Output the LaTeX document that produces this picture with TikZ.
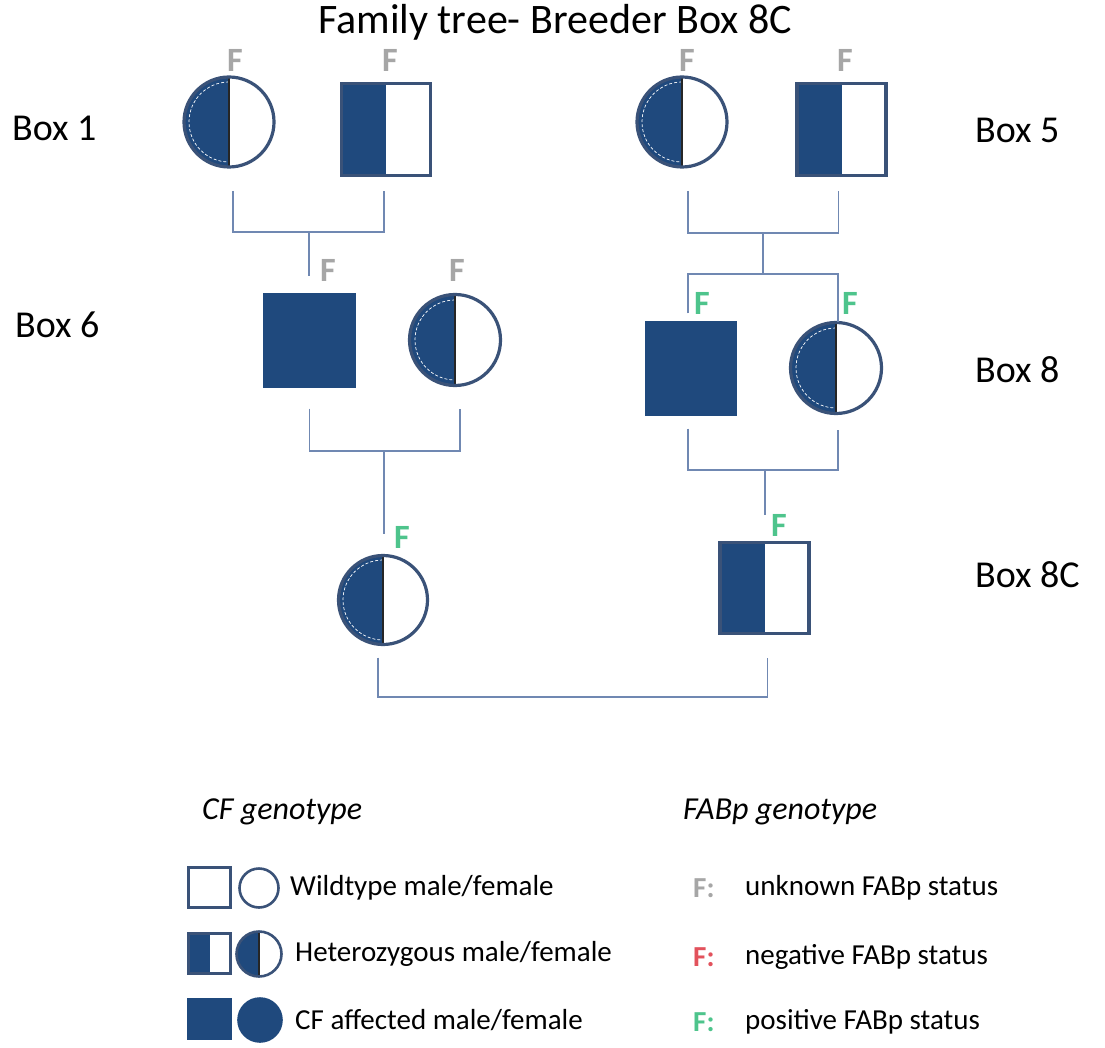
\documentclass[tikz,border=0pt]{standalone}
\usepackage{fontspec}
\setmainfont{Carlito}
\definecolor{navy}{RGB}{31,73,125}
\definecolor{outl}{RGB}{58,82,120}
\definecolor{linkc}{RGB}{112,136,178}
\definecolor{fgray}{RGB}{166,166,166}
\definecolor{fgreen}{RGB}{78,196,140}
\definecolor{fred}{RGB}{226,82,92}
\newcommand{\fsz}[1]{\fontsize{#1}{#1}\selectfont}
\tikzset{
  kin/.style={draw=outl, line width=3.2pt, inner sep=0pt, outer sep=0pt, fill=white},
  male/.style={kin, rectangle, minimum width=89pt, minimum height=92pt},
  female/.style={kin, circle, minimum size=90pt},
  affectedM/.style={male, fill=navy, draw=navy},
  carrierM/.style={male, path picture={
      \fill[navy] (path picture bounding box.south west) rectangle (path picture bounding box.north);}},
  carrierF/.style={female, path picture={
      \fill[navy] (path picture bounding box.north west) rectangle (path picture bounding box.south);
      \draw[white, line width=0.7pt, dash pattern=on 3pt off 2pt]
        ([yshift=#1]path picture bounding box.center) arc[start angle=90, end angle=270, radius=#1];
      \draw[black!85, line width=1.8pt] (path picture bounding box.north) -- (path picture bounding box.south);}},
  carrierF/.default=40pt,
  % legend symbols
  keybase/.style={draw=outl, line width=2.6pt, inner sep=0pt, outer sep=0pt, fill=white},
  keyM/.style={keybase, rectangle, minimum width=42pt, minimum height=40pt},
  keyF/.style={keybase, circle, minimum size=#1},
  keyF/.default=39pt,
  link/.style={draw=linkc, line width=1.5pt},
  fab/.style={font=\fsz{34}\bfseries, inner sep=0pt},
  unk/.style={fab, text=fgray},
  posi/.style={fab, text=fgreen},
  boxlab/.style={font=\fsz{38}, anchor=west, inner sep=0pt},
  keytxt/.style={font=\fsz{29}, anchor=west, inner sep=0pt},
  keyhead/.style={font=\fsz{32}\itshape, anchor=west, inner sep=0pt},
  keymark/.style={font=\fsz{29}\bfseries, anchor=west, inner sep=0pt},
}
\begin{document}
\begin{tikzpicture}[x=1pt, y=-1pt]
\fill[white] (0,0) rectangle (1105,1048);
\useasboundingbox (0,0) rectangle (1105,1048);

% title and generation labels
\node[font=\fsz{42}, inner sep=0pt] (title) at (555,22) {Family tree- Breeder Box 8C};
\node[boxlab] (lb1) at (12,128) {Box 1};
\node[boxlab] (lb5) at (975,130) {Box 5};
\node[boxlab] (lb6) at (15,325) {Box 6};
\node[boxlab] (lb8) at (975,370) {Box 8};
\node[boxlab] (lb8c) at (975,575) {Box 8C};

% generation 1
\node[carrierF] (c1) at (229,122) {};
\node[carrierM] (s1) at (386,129.5) {};
\node[carrierF] (c2) at (682,122) {};
\node[carrierM] (s2) at (841.5,129.5) {};
% generation 2
\node[affectedM, minimum width=90pt] (sA) at (309.5,340.5) {};
\node[carrierF, minimum size=91pt] (cA) at (455,340) {};
\node[affectedM] (sB) at (691,368.5) {};
\node[carrierF, minimum size=91pt] (cB) at (836,368) {};
% generation 3
\node[carrierF, minimum size=89pt] (cC) at (383,600) {};
\node[carrierM, minimum height=91pt] (sC) at (764.5,588) {};

% FABp marks
\node[unk] (f1) at (235,60) {F};
\node[unk] (f2) at (390,60) {F};
\node[unk] (f3) at (687,60) {F};
\node[unk] (f4) at (845,60) {F};
\node[unk] (f5) at (328,270) {F};
\node[unk] (f6) at (457,270) {F};
\node[posi] (f7) at (702,303) {F};
\node[posi] (f8) at (850,303) {F};
\node[posi] (f9) at (402,537) {F};
\node[posi] (f10) at (779,525) {F};

% matings and descent lines
\coordinate (j1) at (309,232);
\draw[link] ([xshift=4pt,yshift=-24pt]c1.south) |- (j1) -| ([xshift=-2pt,yshift=-16pt]s1.south);
\draw[link, shorten >=18pt] (j1) -- (j1 |- sA.north);

\coordinate (j2) at (763,233);
\coordinate (j3) at (763,274);
\draw[link] ([xshift=6pt,yshift=-24pt]c2.south) |- (j2) -| ([xshift=-3pt,yshift=-16pt]s2.south);
\draw[link] (j2) -- (j3);
\draw[link] ([xshift=-3pt,yshift=9pt]sB.north) |- (j3) -| ([xshift=2pt]cB.north);

\coordinate (j4) at (384,451);
\draw[link] ([yshift=-22pt]sA.south) |- (j4) -| ([xshift=5pt,yshift=-23pt]cA.south);
\draw[link, shorten >=22pt] (j4) -- (j4 |- cC.north);

\coordinate (j5) at (765,470);
\draw[link] ([xshift=-3pt,yshift=-14pt]sB.south) |- (j5) -| ([xshift=2pt,yshift=-16pt]cB.south);
\draw[link, shorten >=28pt] (j5) -- (j5 |- sC.north);

\coordinate (j6) at (572,697);
\draw[link] ([xshift=-5pt,yshift=-13pt]cC.south) |- (j6) -| ([xshift=3pt,yshift=-24pt]sC.south);

% key: CF genotype
\node[keyhead] (hcf) at (202,812) {CF genotype};
\node[keyM] (kM1) at (209.5,887.5) {};
\node[keyF] (kF1) at (259,888) {};
\node[keytxt] (kt1) at (290,888) {Wildtype male/female};
\node[keyM, path picture={\fill[navy] (path picture bounding box.south west) rectangle (path picture bounding box.north);}] (kM2) at (209.5,953.5) {};
\node[keyF=45pt, path picture={
    \fill[navy] (path picture bounding box.north west) rectangle (path picture bounding box.south);
    \draw[black!85, line width=1.2pt] (path picture bounding box.north) -- (path picture bounding box.south);}] (kF2) at (259,954) {};
\node[keytxt] (kt2) at (295,954) {Heterozygous male/female};
\node[keyM, fill=navy, draw=navy] (kM3) at (209.5,1019) {};
\node[keyF=43pt, fill=navy, draw=navy] (kF3) at (260,1020) {};
\node[keytxt] (kt3) at (295,1020) {CF affected male/female};

% key: FABp genotype
\node[keyhead] (hfab) at (683,812) {FABp genotype};
\node[keymark, text=fgray] (kf1) at (693,888) {F:};
\node[keytxt] (ku1) at (745,888) {unknown FABp status};
\node[keymark, text=fred] (kf2) at (693,957) {F:};
\node[keytxt] (ku2) at (745,957) {negative FABp status};
\node[keymark, text=fgreen] (kf3) at (693,1022) {F:};
\node[keytxt] (ku3) at (745,1022) {positive FABp status};
\end{tikzpicture}
\end{document}
